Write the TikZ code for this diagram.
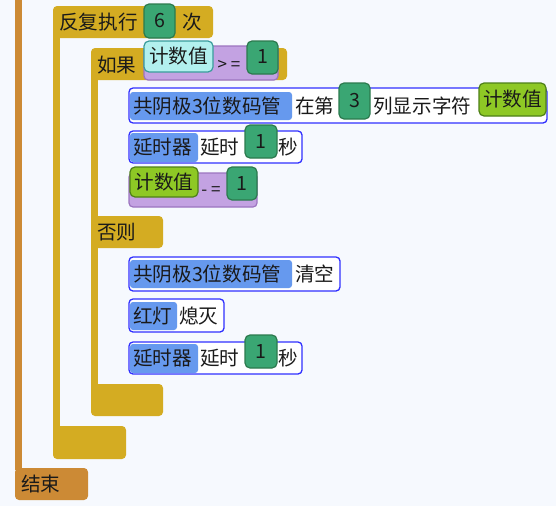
\documentclass[tikz,border=0pt]{standalone}
\usepackage{fontspec}
\newfontfamily\cjk{Noto Sans CJK SC}
\definecolor{bgc}{HTML}{F6F9FE}
\definecolor{orangec}{HTML}{CC8A35}
\definecolor{goldc}{HTML}{D4AC22}
\definecolor{stmtblue}{HTML}{3030FF}
\definecolor{labelblue}{HTML}{6699EE}
\definecolor{numgreen}{HTML}{3AA673}
\definecolor{numborder}{HTML}{2C7A4E}
\definecolor{limec}{HTML}{8EC825}
\definecolor{limeb}{HTML}{4E8018}
\definecolor{purplec}{HTML}{C3A2E2}
\definecolor{purpleb}{HTML}{9C74C0}
\definecolor{cyanc}{HTML}{B2F0EE}
\definecolor{cyanb}{HTML}{3A9C9C}
\definecolor{txtc}{HTML}{1A1A1A}
\tikzset{
  stmtbox/.style={draw=stmtblue, fill=white, rounded corners=4pt, line width=1.3pt},
  lblbox/.style={fill=labelblue, rounded corners=3pt},
  numbox/.style={draw=numborder, fill=numgreen, rounded corners=5pt, line width=1.2pt},
  limebox/.style={draw=limeb, fill=limec, rounded corners=5pt, line width=1.2pt},
  purplebox/.style={draw=purpleb, fill=purplec, rounded corners=4pt, line width=1.2pt},
  cyanbox/.style={draw=cyanb, fill=cyanc, rounded corners=5pt, line width=1.2pt},
  goldblk/.style={fill=goldc, rounded corners=4pt},
  orangeblk/.style={fill=orangec, rounded corners=4pt},
  txt/.style={inner sep=0pt, anchor=west, text=txtc, font=\cjk\fontsize{19.6}{19.6}\selectfont},
  ctxt/.style={inner sep=0pt, anchor=center, text=txtc, font=\cjk\fontsize{19.6}{19.6}\selectfont},
  optxt/.style={inner sep=0pt, anchor=center, text=txtc, font=\cjk\fontsize{17}{17}\selectfont}
}
\begin{document}
\begin{tikzpicture}[x=1pt, y=-1pt]
\fill[bgc] (0,0) rectangle (556,506);
\useasboundingbox (0,0) rectangle (556,506);
% main orange bar and end block
\fill[orangec] (15,0) rectangle (22,470);
\fill[orangeblk] (15,468) rectangle (88,500);
\node[txt] (endtxt) at (21,484) {结束};
% repeat block
\fill[goldblk] (53,6) rectangle (213,38);
\fill[goldc] (53,30) rectangle (60,430);
\fill[goldblk] (53,426) rectangle (126,459);
\node[txt] (reptxt) at (59,22) {反复执行};
\draw[numbox] (144,4) rectangle (175,38);
\node[ctxt] (repnum) at (159.5,21) {6};
\node[txt] (reptimes) at (182,22) {次};
% if block
\fill[goldblk] (91,48) rectangle (287,80);
\fill[goldc] (91,72) rectangle (98,390);
\fill[goldblk] (91,216) rectangle (163,248);
\fill[goldblk] (91,384) rectangle (163,416);
\node[txt] (iftxt) at (97,65) {如果};
\node[txt] (elsetxt) at (97,232) {否则};
% condition
\draw[purplebox] (144,46) rectangle (278,80);
\draw[cyanbox] (144,41) rectangle (213,72);
\node[ctxt] (condvar) at (178.5,56.5) {计数值};
\node[optxt] (condop) at (229,65) {> =};
\draw[numbox] (247,41) rectangle (278,74);
\node[ctxt] (condnum) at (262.5,57) {1};
% if row 1
\draw[stmtbox] (129,88) rectangle (547,123);
\fill[lblbox] (130,92) rectangle (292,120);
\node[txt] (r1lbl) at (133,106) {共阴极3位数码管};
\node[txt] (r1a) at (295,106) {在第};
\draw[numbox] (339,83) rectangle (370,119);
\node[ctxt] (r1num) at (354.5,101) {3};
\node[txt] (r1b) at (373,106) {列显示字符};
\draw[limebox] (479,83) rectangle (546,116);
\node[ctxt] (r1var) at (512.5,99.5) {计数值};
% if row 2
\draw[stmtbox] (129,131) rectangle (302,163);
\fill[lblbox] (130,133) rectangle (198,162);
\node[txt] (r2lbl) at (133,147.5) {延时器};
\node[txt] (r2a) at (200,147.5) {延时};
\draw[numbox] (245,125) rectangle (277,158);
\node[ctxt] (r2num) at (261,141.5) {1};
\node[txt] (r2b) at (278,147.5) {秒};
% if row 3
\draw[purplebox] (129,173) rectangle (257,207);
\draw[limebox] (130,167) rectangle (198,197);
\node[ctxt] (r3var) at (164,182) {计数值};
\node[optxt] (r3op) at (211,191) {- =};
\draw[numbox] (227,167) rectangle (257,200);
\node[ctxt] (r3num) at (242,183.5) {1};
% else row 1
\draw[stmtbox] (129,257) rectangle (340,291);
\fill[lblbox] (130,260) rectangle (292,288);
\node[txt] (e1lbl) at (133,274) {共阴极3位数码管};
\node[txt] (e1a) at (295,274) {清空};
% else row 2
\draw[stmtbox] (129,299) rectangle (224,332);
\fill[lblbox] (130,302) rectangle (177,330);
\node[txt] (e2lbl) at (133,316) {红灯};
\node[txt] (e2a) at (179,316) {熄灭};
% else row 3
\draw[stmtbox] (129,342) rectangle (302,374);
\fill[lblbox] (130,344) rectangle (198,373);
\node[txt] (e3lbl) at (133,358.5) {延时器};
\node[txt] (e3a) at (200,358.5) {延时};
\draw[numbox] (245,335) rectangle (277,368);
\node[ctxt] (e3num) at (261,351.5) {1};
\node[txt] (e3b) at (278,358.5) {秒};
\end{tikzpicture}
\end{document}
